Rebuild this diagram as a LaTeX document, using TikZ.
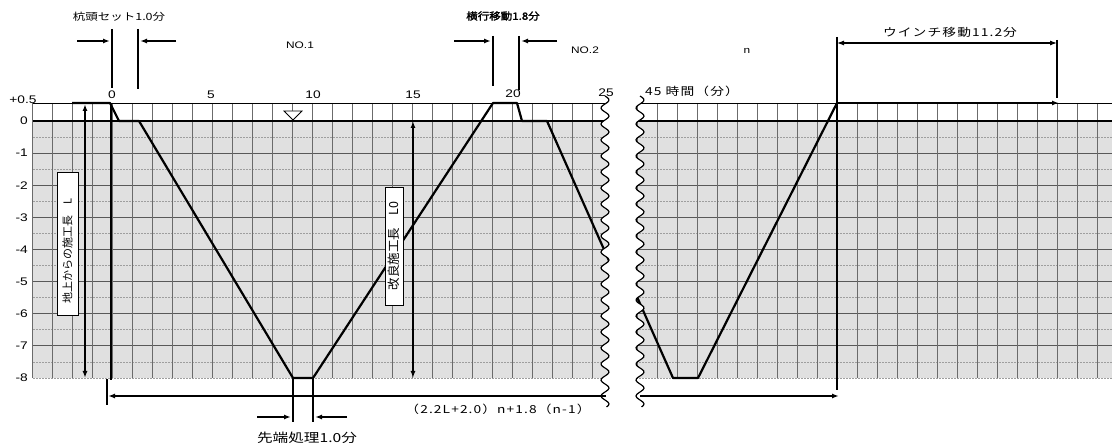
\documentclass[tikz,border=0pt]{standalone}
\usepackage{fontspec}
\setmainfont{Liberation Sans}[FakeStretch=1.25]
\newfontfamily\jp{Noto Sans CJK JP}
\newfontfamily\jpw[FakeStretch=1.25]{Noto Sans CJK JP}
\newfontfamily\jpws[FakeStretch=1.25,LetterSpace=10]{Noto Sans CJK JP}
\newfontfamily\jpbold[FakeBold=2,FakeStretch=1.15]{Noto Sans CJK JP}
\usetikzlibrary{arrows.meta}
\begin{document}
\begin{tikzpicture}[x=1pt,y=-1pt,
  prof/.style={line width=2.2pt, line join=round},
  gline/.style={draw=black!58, line width=0.85pt},
  majline/.style={draw=black!65, line width=0.95pt},
  minline/.style={draw=black!38, line width=0.7pt, dash pattern=on 2pt off 1pt},
  dimarrow/.style={line width=1.4pt, -{Latex[length=7pt,width=5pt]}},
  dimboth/.style={line width=1.4pt, {Latex[length=7pt,width=5pt]}-{Latex[length=7pt,width=5pt]}},
  tickline/.style={line width=1.6pt},
  num/.style={font=\fontsize{11}{13}\selectfont, inner sep=0pt},
  jlbl/.style={font=\jpw\fontsize{10}{12}\selectfont, inner sep=0pt},
  vbox/.style={draw, fill=white, rotate=90, line width=0.6pt, font=\jp\fontsize{11}{13}\selectfont, inner sep=1pt},
  wave/.style={line width=1.2pt}
]
\useasboundingbox (0,0) rectangle (1112,446);
% ---------- left panel grid
\fill[black!12] (33,121) rectangle (612,378);
\foreach \d in {0.5,1.5,...,7.5} \draw[minline] (33,{121+32.125*\d}) -- (612,{121+32.125*\d});
\draw[minline] (33,378) -- (612,378);
\foreach \d in {1,...,7} \draw[majline] (33,{121+32.125*\d}) -- (612,{121+32.125*\d});
\foreach \k in {-4,...,25} \draw[gline] ({112+20*\k},103) -- ({112+20*\k},378);
\draw[line width=0.9pt] (33,103) -- (612,103);
\draw[line width=1.1pt] (33,121) -- (612,121);
% ---------- right panel grid
\fill[black!12] (630,121) rectangle (1112,378);
\foreach \d in {0.5,1.5,...,7.5} \draw[minline] (630,{121+32.125*\d}) -- (1112,{121+32.125*\d});
\draw[minline] (630,378) -- (1112,378);
\foreach \d in {1,...,7} \draw[majline] (630,{121+32.125*\d}) -- (1112,{121+32.125*\d});
\foreach \k in {-1,...,22} \draw[gline] ({657+20*\k},103) -- ({657+20*\k},378);
\draw[line width=0.9pt] (630,103) -- (1112,103);
\draw[line width=1.1pt] (630,121) -- (1112,121);
% ---------- profile coordinates
\coordinate (p1) at (72,103);
\coordinate (p2) at (110,103);
\coordinate (p3) at (119,121);
\coordinate (p4) at (139,121);
\coordinate (p5) at (293,378);
\coordinate (p6) at (313,378);
\coordinate (p7) at (493,103);
\coordinate (p8) at (517,103);
\coordinate (p9) at (522,121);
\coordinate (p10) at (547,121);
\coordinate (p11) at (618,281);
\coordinate (q1) at (626,272);
\coordinate (q2) at (673,378);
\coordinate (q3) at (698,378);
\coordinate (q4) at (837,103);
\coordinate (q5) at (1059,103);
\draw[prof] (p1) -- (p2) -- (p3) -- (p4) -- (p5) -- (p6) -- (p7) -- (p8) -- (p9) -- (p10) -- (p11);
\draw[prof] (q1) -- (q2) -- (q3) -- (q4);
% ---------- break
\fill[white] plot[domain=96:407,samples=200] ({605+4*sin(22.5*\x)},\x) -- plot[domain=407:96,samples=200] ({640+4*sin(22.5*\x)},\x) -- cycle;
\draw[wave] plot[domain=96:407,samples=200] ({605+4*sin(22.5*\x)},\x);
\draw[wave] plot[domain=96:407,samples=200] ({640+4*sin(22.5*\x)},\x);
% ---------- winch travel
\draw[dimarrow, line width=2pt] (q4) -- (q5);
\coordinate (w1) at (837,37);
\coordinate (w2) at (1057,40);
\coordinate (w2b) at (1057,98);
\coordinate (wb) at (837,390);
\draw[tickline] (w1) -- (wb);
\draw[tickline] (w2) -- (w2b);
\draw[dimboth, line width=1.1pt] (837,43) -- (1057,43);
% ---------- x = 0 line
\coordinate (z1) at (111,103);
\coordinate (z2) at (111,380);
\draw[line width=1.6pt] (z1) -- (z2);
% ---------- water level mark
\draw[line width=0.8pt, fill=white] (284,111) -- (302,111) -- (293,120) -- cycle;
% ---------- vertical dimensions
\coordinate (vl1) at (85,104);
\coordinate (vl2) at (85,378);
\draw[dimboth] (vl1) -- (vl2);
\coordinate (vm1) at (413,121);
\coordinate (vm2) at (413,378);
\draw[dimboth] (vm1) -- (vm2);
\node[vbox, minimum width=143pt, minimum height=21pt] (vL) at (67.5,243.5) {地上からの施工長　L\hspace*{16pt}};
\node[vbox, minimum width=118pt, minimum height=18pt, font=\jp\fontsize{12.5}{14}\selectfont] (vL0) at (394,246) {改良施工長　L0};
% ---------- bottom total
\coordinate (bL) at (108,396);
\coordinate (bR) at (606,396);
\draw[dimarrow] (bR) -- (bL);
\draw[tickline] (107,379) -- (107,405);
\coordinate (cL) at (640,396);
\coordinate (cR) at (839,396);
\draw[dimarrow] (cL) -- (cR);
% ---------- top: pile head set
\coordinate (a1t) at (112,29);
\coordinate (a1b) at (112,88);
\coordinate (a2t) at (138,29);
\coordinate (a2b) at (138,89);
\draw[tickline] (a1t) -- (a1b);
\draw[tickline] (a2t) -- (a2b);
\draw[dimarrow] (77,41) -- (110,41);
\draw[dimarrow] (176,41) -- (140,41);
% ---------- top: traverse
\coordinate (b1t) at (493,36);
\coordinate (b1b) at (493,86);
\coordinate (b2t) at (519,36);
\coordinate (b2b) at (519,90);
\draw[tickline] (b1t) -- (b1b);
\draw[tickline] (b2t) -- (b2b);
\draw[dimarrow] (454,41) -- (491,41);
\draw[dimarrow] (557,41) -- (521,41);
% ---------- bottom: tip treatment
\coordinate (t1t) at (293,378);
\coordinate (t1b) at (293,422);
\coordinate (t2t) at (313,378);
\coordinate (t2b) at (313,422);
\draw[tickline] (t1t) -- (t1b);
\draw[tickline] (t2t) -- (t2b);
\draw[dimarrow] (257,417) -- (291,417);
\draw[dimarrow] (347,417) -- (315,417);
% ---------- axis labels
\node[num] (lp05) at (23,100) {+0.5};
\node[num, anchor=east] (l0) at (28,121) {0};
\foreach \d in {1,...,8} \node[num, anchor=east] (l\d) at (28,{121+32.125*\d}) {-\d};
\node[num] (c0) at (112,95) {0};
\node[num] (c5) at (211,95) {5};
\node[num] (c10) at (313,95) {10};
\node[num] (c15) at (413,95) {15};
\node[num] (c20) at (513,94) {20};
\node[num] (c25) at (606,93) {25};
\node[jlbl, anchor=west, font=\jpws\fontsize{11}{13}\selectfont] (c45) at (645,91) {45 時間（分）};
% ---------- other labels
\node[jlbl] (lab1) at (119,17) {杭頭セット1.0分};
\node[jlbl, font=\jpbold\fontsize{10}{12}\selectfont] (lab2) at (503,16) {横行移動1.8分};
\node[jlbl, font=\jpws\fontsize{11}{13}\selectfont] (lab3) at (950,32) {ウインチ移動11.2分};
\node[jlbl, font=\jpw\fontsize{12.5}{14}\selectfont] (lab4) at (307,438) {先端処理1.0分};
\node[jlbl, font=\jpws\fontsize{11}{13}\selectfont] (lab5) at (498,409) {（2.2L+2.0）n+1.8（n-1）};
\node[num, font=\fontsize{9.5}{11}\selectfont] (no1) at (300,45) {NO.1};
\node[num, font=\fontsize{9.5}{11}\selectfont] (no2) at (585,50) {NO.2};
\node[num, font=\fontsize{9.5}{11}\selectfont] (nn) at (747,51) {n};
\end{tikzpicture}
\end{document}
